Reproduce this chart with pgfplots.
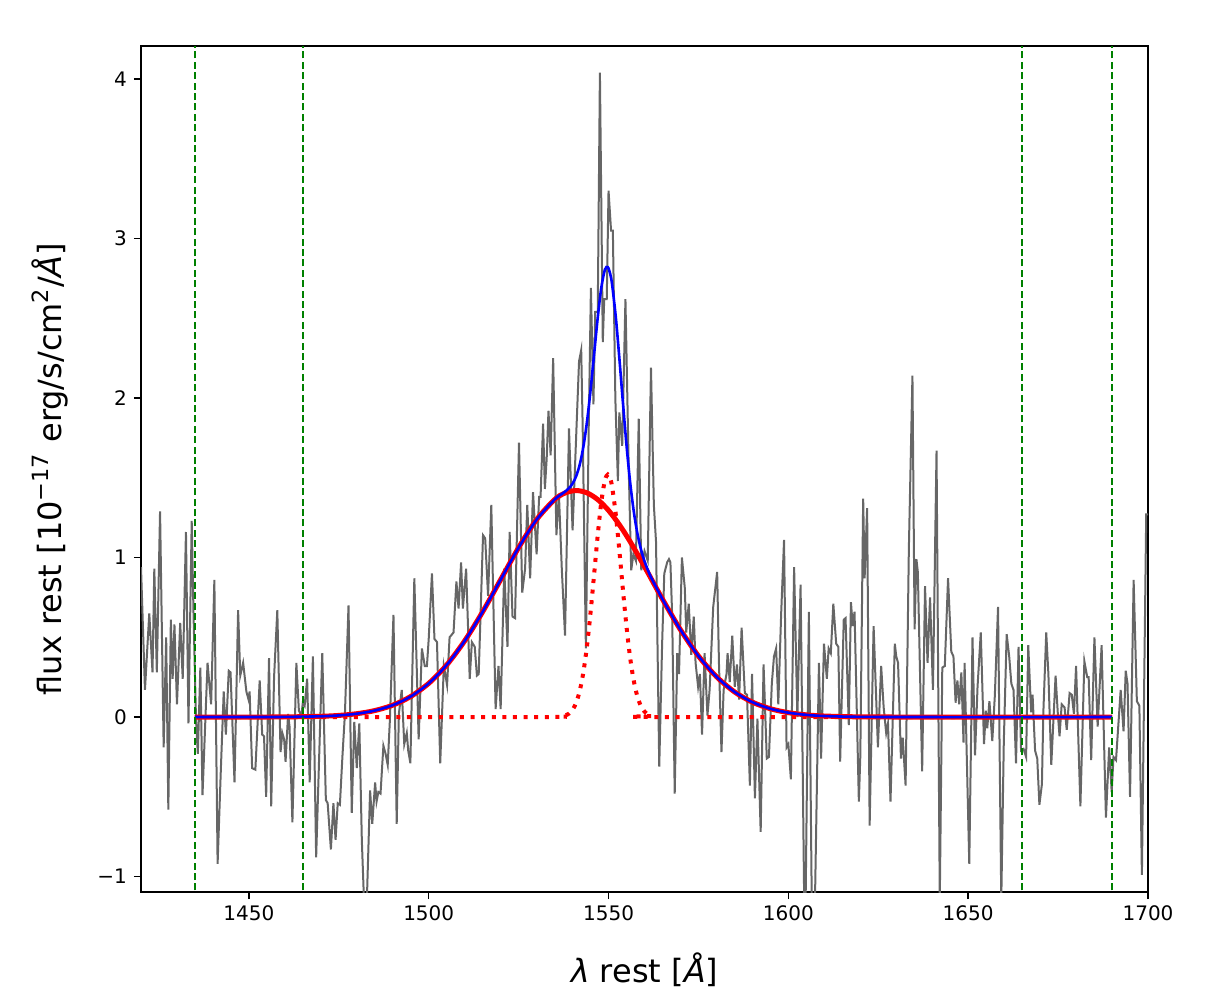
\documentclass[border=0pt]{standalone}
\usepackage{fontspec}
\setmainfont{DejaVu Sans}
\usepackage{pgfplots}
\pgfplotsset{compat=1.18}
\usetikzlibrary{calc}

\definecolor{specgray}{HTML}{666666}
\definecolor{mplgreen}{HTML}{008000}

\begin{document}
\begin{tikzpicture}
\begin{axis}[
  name=ax,
  width=503.5pt, height=423pt, scale only axis,
  xmin=1420, xmax=1700, ymin=-1.097, ymax=4.207,
  xtick={1450,1500,...,1700},
  ytick={-1,0,1,2,3,4},
  yticklabels={−1,0,1,2,3,4},
  /pgf/number format/1000 sep={},
  /pgf/number format/assume math mode=true,
  tick align=outside, xtick pos=left, ytick pos=left,
  major tick length=3.5pt,
  tick style={black, line width=0.75pt},
  axis line style={line width=0.75pt},
  ticklabel style={font=\fontsize{10}{12}\selectfont},
  label style={font=\fontsize{16}{18}\selectfont},
  xlabel={\textit{λ} rest [\textit{Å}]},
  ylabel={flux rest [10\textsuperscript{−17} erg/s/cm\textsuperscript{2}/\textit{Å}]},
  xlabel style={at={(axis description cs:0.5,-0.092)}, anchor=center},
  ylabel style={at={(axis description cs:-0.0904,0.5)}, anchor=center, rotate=0},
]
% observed spectrum
\addplot[specgray, line width=1pt] coordinates {
(1420.0,0.94) (1421.1,0.17) (1422.3,0.65) (1423.2,0.28) (1423.7,0.93) (1424.4,0.28)
(1425.3,1.29) (1426.3,-0.19) (1427.0,0.50) (1427.6,-0.58) (1428.3,0.61) (1428.8,0.24)
(1429.3,0.58) (1430.0,0.08) (1430.9,0.59) (1431.6,0.24) (1432.5,1.16) (1433.2,-0.04)
(1434.1,1.23) (1434.6,0.65) (1435.3,-0.02) (1435.8,-0.23) (1436.5,0.31) (1437.1,-0.49)
(1438.5,0.34) (1439.5,0.08) (1440.4,0.86) (1441.3,-0.92) (1442.2,-0.33) (1443.0,0.16)
(1443.6,-0.11) (1444.4,0.29) (1444.9,0.28) (1446.0,-0.41) (1447.0,0.67) (1447.6,0.26)
(1448.4,0.34) (1449.3,0.16) (1449.9,0.11) (1450.2,0.16) (1450.9,-0.32) (1451.8,-0.33)
(1453.0,0.23) (1453.7,-0.11) (1454.2,-0.12) (1454.8,-0.50) (1455.6,0.37) (1456.2,-0.56)
(1457.0,0.25) (1457.9,0.67) (1458.8,-0.22) (1459.3,-0.10) (1459.8,-0.14) (1460.2,-0.28)
(1460.9,0.02) (1461.3,-0.06) (1462.1,-0.66) (1463.2,0.34) (1463.9,0.04) (1464.6,0.01)
(1465.0,0.09) (1465.5,0.07) (1466.2,0.24) (1466.9,-0.41) (1467.8,0.38) (1468.7,-0.88)
(1470.4,0.40) (1471.4,-0.52) (1471.9,-0.54) (1472.8,-0.83) (1473.5,-0.54) (1474.1,-0.77)
(1474.7,-0.54) (1475.3,-0.55) (1476.0,-0.25) (1476.7,0.02) (1477.7,0.70) (1478.6,-0.60)
(1479.3,-0.03) (1480.0,-0.32) (1480.7,-0.04) (1481.4,-0.77) (1482.0,-1.15) (1482.8,-1.15)
(1483.7,-0.46) (1484.3,-0.67) (1485.1,-0.41) (1485.5,-0.53) (1486.0,-0.47) (1486.6,-0.48)
(1487.4,-0.18) (1488.0,-0.23) (1488.6,-0.30) (1489.2,-0.02) (1490.2,0.64) (1491.1,-0.67)
(1491.7,0.02) (1492.5,0.17) (1493.2,-0.17) (1493.9,-0.10) (1494.3,-0.21) (1494.9,-0.29)
(1496.0,0.87) (1497.2,-0.14) (1498.1,0.43) (1498.9,0.32) (1499.5,0.32) (1500.0,0.49)
(1500.9,0.90) (1501.6,0.49) (1502.3,0.47) (1503.2,-0.29) (1504.2,0.32) (1504.6,0.27)
(1505.1,0.20) (1505.8,0.50) (1506.9,0.53) (1507.7,0.85) (1508.3,0.68) (1509.0,0.97)
(1509.5,0.68) (1510.4,0.93) (1511.4,0.24) (1512.0,0.47) (1512.8,0.44) (1513.4,0.26)
(1513.9,0.27) (1515.1,1.14) (1515.7,1.12) (1516.5,0.76) (1517.4,1.33) (1518.6,0.05)
(1519.4,0.32) (1520.0,0.05) (1521.0,0.93) (1521.9,0.44) (1522.5,1.16) (1523.3,0.63)
(1524.0,0.62) (1525.1,1.72) (1526.0,0.78) (1526.8,0.93) (1527.4,1.33) (1528.2,0.87)
(1529.0,1.41) (1530.0,1.02) (1530.7,1.38) (1531.1,1.38) (1531.8,1.84) (1532.3,1.43)
(1532.8,1.62) (1533.3,1.92) (1533.9,1.64) (1534.6,2.25) (1535.5,1.14) (1536.2,1.40)
(1537.0,0.93) (1537.9,0.51) (1539.0,1.81) (1540.0,1.17) (1541.1,1.82) (1541.8,2.23)
(1542.4,2.30) (1542.8,1.83) (1543.7,0.43) (1544.5,1.83) (1545.1,2.69) (1545.8,1.96)
(1546.3,2.54) (1547.0,2.54) (1547.6,4.04) (1548.4,2.35) (1548.8,2.62) (1549.5,2.62)
(1550.0,3.30) (1550.7,3.05) (1551.2,3.05) (1551.9,1.99) (1552.6,1.48) (1553.0,1.91)
(1553.8,1.70) (1554.7,2.62) (1555.6,1.57) (1556.3,0.92) (1556.9,1.02) (1557.6,0.98)
(1558.4,1.87) (1559.1,0.92) (1560.0,1.04) (1560.9,0.98) (1561.8,2.19) (1562.6,1.33)
(1563.2,1.10) (1564.1,-0.31) (1564.9,0.46) (1565.5,0.90) (1566.3,0.97) (1566.8,0.99)
(1567.2,0.97) (1567.7,0.63) (1568.4,-0.48) (1569.1,0.40) (1569.6,0.27) (1570.4,1.00)
(1571.2,0.81) (1571.6,0.53) (1572.3,0.71) (1573.0,0.39) (1573.7,0.63) (1574.2,0.34)
(1574.9,0.19) (1575.4,0.27) (1576.0,-0.11) (1576.7,0.40) (1577.5,0.01) (1578.1,0.17)
(1579.1,0.69) (1580.2,0.91) (1580.7,0.34) (1581.4,-0.22) (1582.0,0.17) (1582.8,0.27)
(1583.1,0.40) (1583.7,0.22) (1584.4,0.51) (1585.1,0.19) (1585.7,0.33) (1586.3,0.11)
(1587.0,0.56) (1587.9,0.15) (1588.5,0.14) (1589.3,-0.43) (1589.9,0.27) (1590.7,-0.51)
(1591.4,-0.01) (1592.3,-0.72) (1593.1,0.33) (1594.0,-0.26) (1594.6,-0.25) (1595.4,0.21)
(1596.0,0.38) (1596.6,0.43) (1597.2,0.08) (1598.0,0.65) (1598.8,1.11) (1599.5,-0.19)
(1600.0,-0.17) (1600.7,-0.39) (1601.6,0.94) (1602.5,0.00) (1603.4,0.83) (1604.4,-1.15)
(1604.8,-1.15) (1605.7,0.66) (1606.5,-1.15) (1607.4,-1.15) (1608.5,0.34) (1609.1,-0.26)
(1609.9,0.46) (1610.7,0.24) (1611.2,0.43) (1611.8,0.40) (1612.5,0.71) (1613.3,0.46)
(1613.9,0.44) (1614.4,-0.28) (1615.4,0.61) (1615.9,0.62) (1616.8,-0.05) (1617.4,0.72)
(1617.9,0.57) (1618.4,0.66) (1619.6,-0.53) (1620.0,-0.25) (1620.8,1.37) (1621.2,0.87)
(1621.9,1.31) (1622.6,-0.68) (1623.7,0.57) (1624.9,-0.19) (1625.8,0.32) (1626.5,0.06)
(1627.2,-0.10) (1627.7,-0.04) (1628.4,-0.53) (1629.6,0.46) (1630.0,0.38) (1630.5,0.34)
(1631.3,-0.26) (1631.8,-0.13) (1632.6,-0.43) (1633.5,1.05) (1634.5,2.14) (1635.1,0.55)
(1635.6,0.99) (1636.0,0.91) (1637.2,-0.34) (1638.0,0.82) (1638.7,0.34) (1639.4,0.75)
(1640.2,0.17) (1641.2,1.67) (1642.1,-1.15) (1642.8,0.31) (1643.5,0.32) (1644.4,0.87)
(1645.3,0.41) (1645.9,0.38) (1646.5,0.09) (1647.0,0.23) (1647.5,0.08) (1648.1,0.28)
(1648.7,-0.16) (1649.0,0.34) (1650.3,-0.92) (1651.2,0.50) (1651.9,-0.24) (1652.6,0.19)
(1653.5,0.53) (1654.4,-0.17) (1654.9,0.04) (1655.3,-0.07) (1655.9,0.10) (1656.7,-0.15)
(1657.4,0.13) (1658.3,0.69) (1659.2,-1.15) (1659.9,-0.16) (1660.7,0.52) (1661.4,0.38)
(1662.0,0.21) (1662.6,0.17) (1663.3,-0.29) (1664.0,0.44) (1664.7,-0.21) (1665.4,-0.20)
(1666.1,-0.25) (1666.7,0.45) (1667.5,0.03) (1667.9,0.14) (1668.6,-0.21) (1669.2,-0.26)
(1669.8,-0.55) (1670.5,-0.42) (1670.9,0.03) (1671.7,0.53) (1672.3,0.27) (1673.1,-0.30)
(1674.3,0.26) (1674.9,0.03) (1675.4,-0.12) (1676.0,0.08) (1676.8,0.06) (1677.4,-0.08)
(1678.2,0.15) (1678.8,0.14) (1679.4,0.02) (1680.0,0.32) (1681.2,-0.56) (1682.3,0.35)
(1683.1,0.25) (1683.5,0.25) (1684.2,-0.27) (1685.1,0.50) (1686.0,-0.06) (1687.1,0.45)
(1688.3,-0.63) (1689.2,-0.19) (1689.9,-0.47) (1690.4,-0.25) (1691.1,-0.27) (1692.4,0.17)
(1693.2,-0.09) (1693.8,0.29) (1694.3,0.21) (1695.0,-0.50) (1696.0,0.86) (1696.9,0.10)
(1697.6,0.07) (1698.3,-0.99) (1699.5,1.27) (1700.0,1.27)
};
% narrow component
\addplot[red, line width=2pt, dash pattern=on 2pt off 3.3pt, smooth] coordinates {
(1435,0) (1530,0) (1537,0.0038) (1538,0.0094) (1539,0.0215) (1540,0.0455)
(1541,0.0899) (1542,0.1648) (1543,0.2808) (1544,0.4449) (1545,0.6553) (1546,0.8970)
(1547,1.1415) (1548,1.3503) (1549,1.4849) (1549.8,1.52) (1550.5,1.4931) (1551,1.4422)
(1552,1.2738) (1553,1.0458) (1554,0.7982) (1555,0.5662) (1556,0.3733) (1557,0.2289)
(1558,0.1304) (1559,0.0691) (1560,0.0340) (1561,0.0156) (1562,0.0066) (1565,0)
(1690,0)
};
% broad component
\addplot[red, line width=2.5pt, smooth] coordinates {
(1435,0) (1450,0.0001) (1460,0.0008) (1470,0.0047) (1475,0.0102) (1480,0.0209)
(1485,0.0406) (1490,0.0744) (1495,0.1289) (1500,0.2111) (1505,0.3267) (1510,0.4777)
(1515,0.6599) (1520,0.8613) (1525,1.0623) (1530,1.2380) (1535,1.3632) (1538,1.4055)
(1541,1.42) (1544,1.4055) (1547,1.3632) (1550,1.2954) (1553,1.2060) (1556,1.1002)
(1560,0.9430) (1565,0.7390) (1570,0.5473) (1575,0.3828) (1580,0.2532) (1585,0.1582)
(1590,0.0933) (1595,0.0521) (1600,0.0274) (1605,0.0137) (1610,0.0064) (1620,0.0012)
(1640,0) (1690,0)
};
% total model
\addplot[blue, line width=1.3pt, smooth] coordinates {
(1435,0) (1450,0.0001) (1460,0.0008) (1470,0.0047) (1475,0.0102) (1480,0.0209)
(1485,0.0406) (1490,0.0744) (1495,0.1289) (1500,0.2111) (1505,0.3267) (1510,0.4777)
(1515,0.6599) (1520,0.8613) (1525,1.0623) (1530,1.2380) (1535,1.3637) (1537,1.3983)
(1538,1.4149) (1539,1.4351) (1540,1.4639) (1541,1.5099) (1542,1.5832) (1543,1.6944)
(1544,1.8504) (1545,2.0498) (1546,2.2773) (1547,2.5047) (1548,2.6936) (1549,2.8055)
(1549.8,2.8206) (1550.5,2.7750) (1551,2.7100) (1552,2.5118) (1553,2.2518) (1554,1.9706)
(1555,1.7033) (1556,1.4735) (1557,1.2912) (1558,1.1536) (1559,1.0525) (1560,0.9770)
(1561,0.9179) (1562,0.8679) (1565,0.7390) (1570,0.5473) (1575,0.3828) (1580,0.2532)
(1585,0.1582) (1590,0.0933) (1595,0.0521) (1600,0.0274) (1605,0.0137) (1610,0.0064)
(1620,0.0012) (1640,0) (1690,0)
};
% fit windows
\addplot[mplgreen, line width=0.75pt, dash pattern=on 3.5pt off 1.7pt] coordinates {(1435,-2) (1435,5)};
\addplot[mplgreen, line width=0.75pt, dash pattern=on 3.5pt off 1.7pt] coordinates {(1465,-2) (1465,5)};
\addplot[mplgreen, line width=0.75pt, dash pattern=on 3.5pt off 1.7pt] coordinates {(1665,-2) (1665,5)};
\addplot[mplgreen, line width=0.75pt, dash pattern=on 3.5pt off 1.7pt] coordinates {(1690,-2) (1690,5)};
\end{axis}
\pgfresetboundingbox
\path ($(ax.south west)+(-70.5pt,-56.5pt)$) rectangle ($(ax.north east)+(34.5pt,23pt)$);
\end{tikzpicture}
\end{document}
